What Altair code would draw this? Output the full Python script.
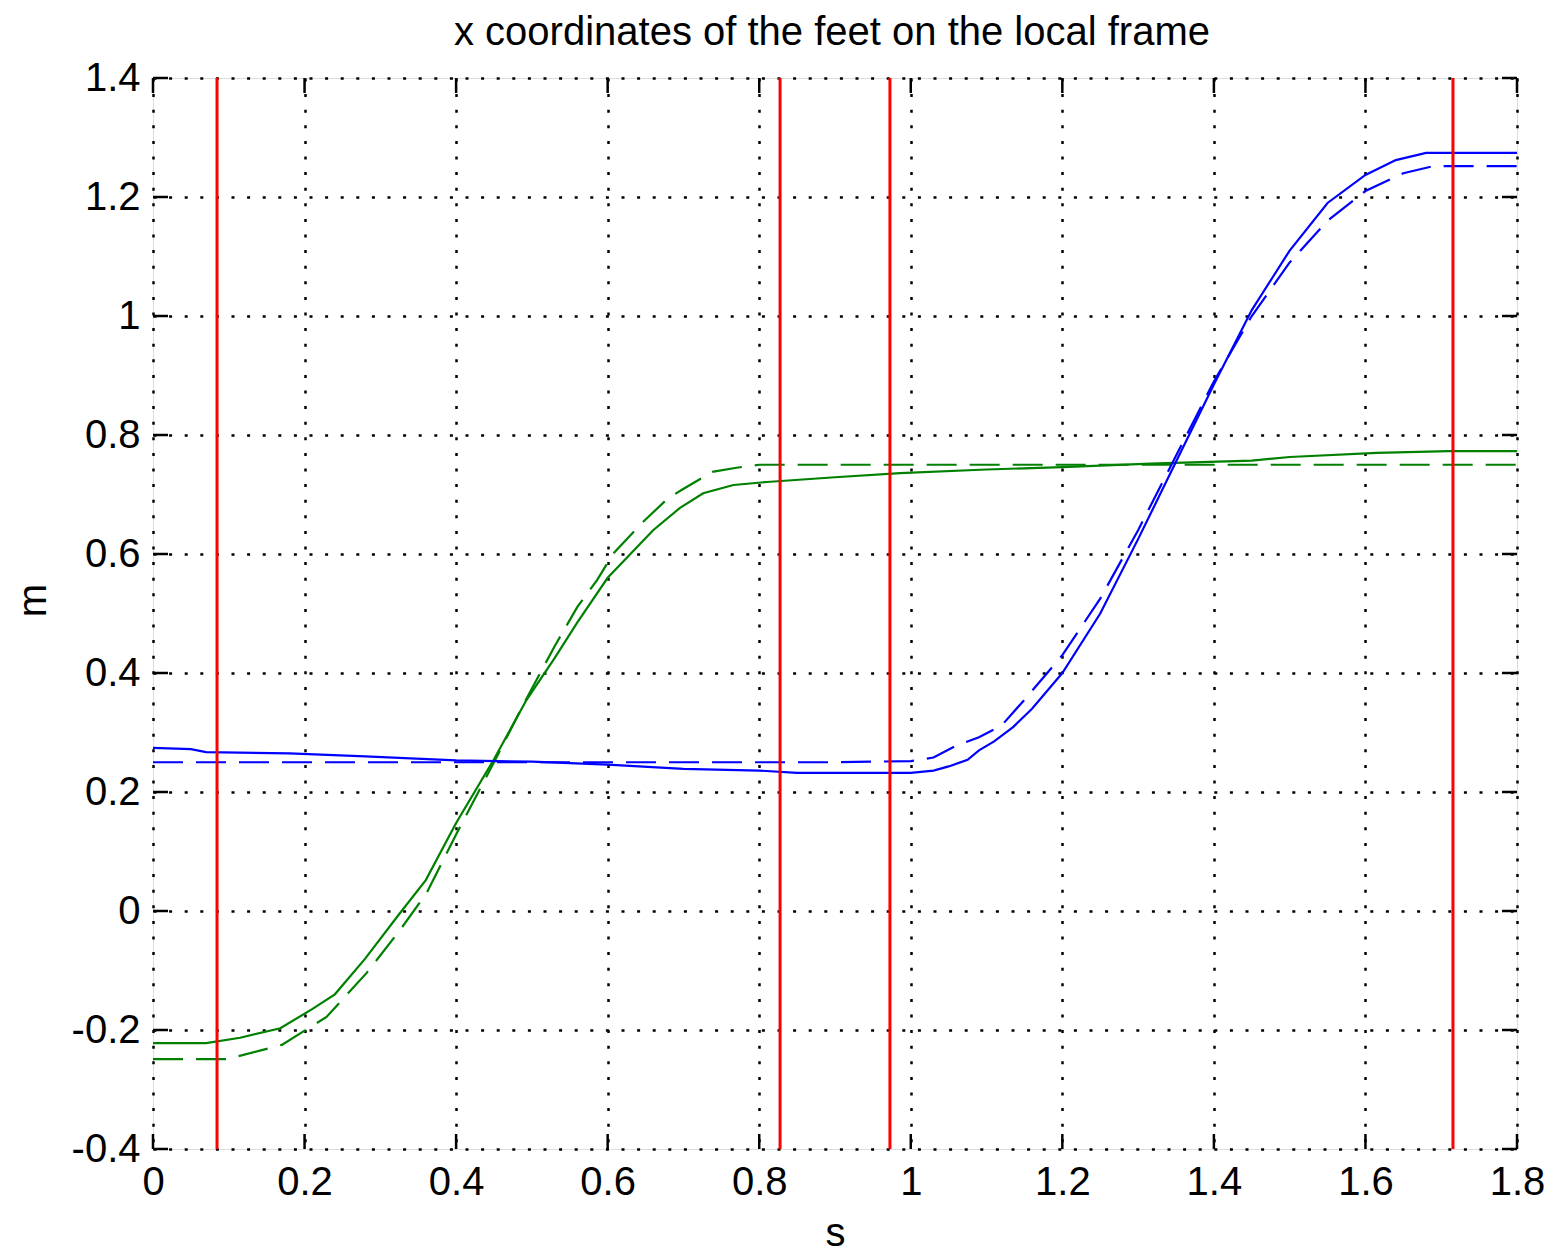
import altair as alt
import pandas as pd

title_text = "x coordinates of the feet on the local frame"
x_label = "s"
y_label = "m"

x_ticks = [0, 0.2, 0.4, 0.6, 0.8, 1.0, 1.2, 1.4, 1.6, 1.8]
y_ticks = [-0.4, -0.2, 0, 0.2, 0.4, 0.6, 0.8, 1.0, 1.2, 1.4]

blue_solid_x = [0, 0.05, 0.07, 0.18, 0.28, 0.4, 0.5, 0.6, 0.7, 0.8, 0.85, 1.0, 1.03, 1.05,
                1.075, 1.09, 1.11, 1.135, 1.16, 1.2, 1.25, 1.3, 1.35, 1.4, 1.45, 1.5, 1.55,
                1.6, 1.64, 1.68, 1.8]
blue_solid_y = [0.274, 0.272, 0.267, 0.265, 0.26, 0.253, 0.251, 0.246, 0.239, 0.236, 0.232,
                0.232, 0.236, 0.243, 0.254, 0.27, 0.285, 0.309, 0.34, 0.40, 0.50, 0.625,
                0.755, 0.885, 1.01, 1.11, 1.19, 1.237, 1.262, 1.274, 1.274]

blue_dash_x = [0, 0.9, 1.0, 1.03, 1.06, 1.09, 1.12, 1.15, 1.2, 1.25, 1.3, 1.35, 1.4, 1.45,
               1.5, 1.55, 1.6, 1.65, 1.69, 1.8]
blue_dash_y = [0.25, 0.25, 0.252, 0.258, 0.278, 0.292, 0.312, 0.355, 0.43, 0.525, 0.64,
               0.765, 0.89, 1.0, 1.09, 1.16, 1.21, 1.24, 1.252, 1.252]

green_solid_x = [0, 0.07, 0.115, 0.168, 0.21, 0.24, 0.28, 0.325, 0.36, 0.40, 0.45, 0.493,
                 0.53, 0.56, 0.6, 0.63, 0.66, 0.695, 0.726, 0.766, 0.81, 0.9, 0.986, 1.1,
                 1.2, 1.316, 1.45, 1.5, 1.615, 1.71, 1.8]
green_solid_y = [-0.222, -0.222, -0.213, -0.197, -0.165, -0.14, -0.08, -0.005, 0.052, 0.148,
                 0.255, 0.355, 0.425, 0.485, 0.56, 0.6, 0.64, 0.677, 0.702, 0.716, 0.721,
                 0.729, 0.736, 0.742, 0.746, 0.752, 0.757, 0.763, 0.77, 0.773, 0.773]

green_dash_x = [0, 0.098, 0.17, 0.229, 0.282, 0.326, 0.361, 0.401, 0.45, 0.49, 0.53, 0.56,
                0.586, 0.607, 0.645, 0.68, 0.698, 0.738, 0.77, 0.8, 1.8]
green_dash_y = [-0.249, -0.249, -0.225, -0.178, -0.104, -0.032, 0.03, 0.131, 0.25, 0.35,
                0.445, 0.511, 0.556, 0.6, 0.652, 0.694, 0.708, 0.738, 0.745, 0.75, 0.75]

red_lines_x = [0.0845, 0.8275, 0.9725, 1.7155]

W, H = 1364, 1071
FONT = "Liberation Sans"

xs = alt.Scale(domain=[0, 1.8], nice=False, zero=False)
ys = alt.Scale(domain=[-0.4, 1.4], nice=False, zero=False)

x_axis = alt.Axis(
    values=x_ticks, labelExpr="toString(datum.value)", labelFont=FONT, labelFontSize=40,
    labelColor="black", labelPadding=13, labelFlush=False, labelOverlap=False,
    ticks=False, domain=False, grid=True, gridColor="black", gridDash=[3, 12.6],
    gridWidth=2.5, gridOpacity=1, title=x_label, titleFont=FONT, titleFontSize=40,
    titleFontWeight="normal", titleColor="black", titleY=96, titleBaseline="alphabetic",
)
y_axis = alt.Axis(
    values=y_ticks, labelExpr="toString(datum.value)", labelFont=FONT, labelFontSize=40,
    labelColor="black", labelPadding=13, labelFlush=False, labelOverlap=False,
    ticks=False, domain=False, grid=True, gridColor="black", gridDash=[3, 12.6],
    gridWidth=2.5, gridOpacity=1, title=y_label, titleFont=FONT, titleFontSize=40,
    titleFontWeight="normal", titleColor="black", titleX=-120, titleY=522,
    titleAngle=270, titleBaseline="middle", titleAlign="center",
)


def series(xv, yv, color, dash=None):
    df = pd.DataFrame({"s": xv, "m": yv})
    mk = dict(color=color, strokeWidth=2.2)
    if dash:
        mk["strokeDash"] = dash
    return alt.Chart(df).mark_line(**mk).encode(
        x=alt.X("s:Q", scale=xs, axis=x_axis),
        y=alt.Y("m:Q", scale=ys, axis=y_axis),
        order=alt.Order("s:Q"),
    )


xt = pd.DataFrame({"v": x_ticks})
yt = pd.DataFrame({"v": y_ticks})
tick_style = dict(color="black", strokeWidth=2.5)

bottom_ticks = alt.Chart(xt).mark_rule(**tick_style).encode(
    x=alt.X("v:Q", scale=xs, axis=x_axis), y=alt.value(H), y2=alt.value(H - 15))
top_ticks = alt.Chart(xt).mark_rule(**tick_style).encode(
    x=alt.X("v:Q", scale=xs, axis=x_axis), y=alt.value(0), y2=alt.value(15))
left_ticks = alt.Chart(yt).mark_rule(**tick_style).encode(
    y=alt.Y("v:Q", scale=ys, axis=y_axis), x=alt.value(0), x2=alt.value(15))
right_ticks = alt.Chart(yt).mark_rule(**tick_style).encode(
    y=alt.Y("v:Q", scale=ys, axis=y_axis), x=alt.value(W - 15), x2=alt.value(W))

red = alt.Chart(pd.DataFrame({"v": red_lines_x})).mark_rule(
    color="#ff0000", strokeWidth=3).encode(x=alt.X("v:Q", scale=xs, axis=x_axis))

title_mark = alt.Chart(pd.DataFrame({"t": [title_text]})).mark_text(
    font=FONT, fontSize=40, color="black", align="center", baseline="alphabetic"
).encode(text="t:N", x=alt.value(W / 2 - 3), y=alt.value(-33))

chart = alt.layer(
    bottom_ticks, top_ticks, left_ticks, right_ticks,
    series(green_solid_x, green_solid_y, "#008000"),
    series(green_dash_x, green_dash_y, "#008000", [30, 13]),
    series(blue_solid_x, blue_solid_y, "#0000ff"),
    series(blue_dash_x, blue_dash_y, "#0000ff", [30, 13]),
    red,
    title_mark,
).properties(
    width=W, height=H,
    autosize=alt.AutoSizeParams(type="none"),
    padding={"left": 145, "top": 70, "right": 31, "bottom": 106},
).configure_view(stroke="black", strokeWidth=3).configure(background="white")

chart.save("out.html", embed_options={"renderer": "svg", "actions": False})
